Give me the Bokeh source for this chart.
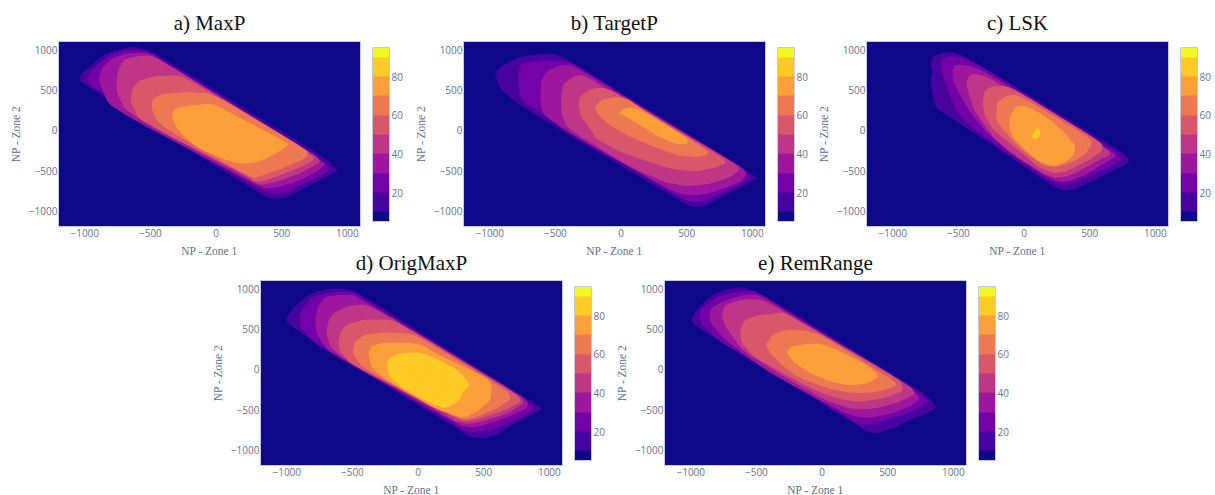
from bokeh.embed import file_html
from bokeh.resources import INLINE
from bokeh.plotting import figure
from bokeh.layouts import column, row
from bokeh.models import ColorBar, LinearColorMapper, FixedTicker

band_colors = ["#0d0887", "#46039f", "#7201a8", "#9c179e", "#bd3786", "#d8576b", "#ed7953", "#fb9f3a", "#fdca26", "#f0f921"]
x_ticks = [-1000, -500, 0, 500, 1000]
y_ticks = [-1000, -500, 0, 500, 1000]
tick_labels = {-1000: "\u22121000", -500: "\u2212500", 0: "0", 500: "500", 1000: "1000"}
bar_ticks = [20, 40, 60, 80]

# contour outlines: (NP zone 1, NP zone 2), level = lower bound of band
a_10 = [(-1046,640),(-1025,702),(-937,826),(-861,930),(-759,992),(-646,1033),(-582,1025),(-468,959),(861,-372),(886,-442),(932,-496),(886,-537),(785,-620),(633,-744),(532,-835),(443,-851),(354,-806),(278,-723),(-1013,579)]
a_20 = [(-982,620),(-962,723),(-861,868),(-772,959),(-658,1000),(-532,983),(-468,942),(823,-393),(861,-455),(848,-517),(772,-579),(633,-682),(532,-777),(430,-785),(329,-723),(266,-661),(-962,558)]
a_30 = [(-891,640),(-873,764),(-797,888),(-696,950),(-532,963),(-456,909),(797,-372),(830,-413),(785,-496),(633,-620),(481,-702),(380,-723),(304,-669),(241,-620),(-810,289),(-886,579)]
a_40 = [(-759,537),(-754,702),(-709,868),(-608,917),(-506,930),(-430,876),(759,-310),(797,-393),(633,-537),(456,-640),(329,-682),(228,-579),(-684,227),(-754,455)]
a_50 = [(-651,413),(-633,529),(-582,620),(-456,674),(-278,682),(-177,599),(734,-310),(747,-372),(582,-496),(380,-620),(304,-640),(228,-558),(-582,124),(-646,331)]
a_60 = [(-494,289),(-481,393),(-405,455),(-203,475),(-25,455),(696,-248),(696,-331),(532,-455),(354,-558),(291,-591),(215,-537),(-127,-227),(-380,21),(-456,124)]
a_70 = [(-337,165),(-316,269),(-203,310),(-25,331),(101,227),(532,-145),(557,-178),(430,-310),(304,-401),(177,-413),(51,-351),(-127,-227),(-241,-83),(-304,41)]

b_10 = [(-965,711),(-889,818),(-787,901),(-661,938),(-509,950),(-382,855),(934,-475),(985,-537),(1043,-591),(934,-682),(808,-785),(656,-930),(555,-950),(466,-888),(-648,186),(-838,393),(-927,529)]
b_20 = [(-787,640),(-775,806),(-724,847),(-585,868),(-420,859),(-344,806),(934,-517),(990,-578),(909,-669),(757,-785),(630,-876),(555,-893),(466,-847),(377,-764),(-585,186),(-762,372)]
b_30 = [(-615,413),(-610,620),(-560,744),(-458,806),(-382,806),(-306,744),(922,-455),(960,-545),(909,-640),(782,-723),(630,-793),(504,-806),(377,-744),(-408,-21),(-585,186),(-610,290)]
b_40 = [(-458,413),(-438,578),(-357,669),(-294,682),(-205,607),(871,-413),(904,-496),(833,-578),(681,-661),(504,-694),(327,-640),(48,-434),(-408,21),(-453,207)]
b_50 = [(-327,331),(-306,434),(-218,517),(-129,529),(-28,455),(770,-331),(803,-413),(681,-475),(555,-512),(377,-475),(175,-372),(-28,-248),(-192,-103),(-218,-21),(-306,165)]
b_60 = [(-198,289),(-154,372),(-53,413),(48,393),(137,289),(656,-248),(663,-302),(580,-331),(428,-310),(225,-186),(48,-62),(-104,83),(-180,207)]
b_70 = [(-20,215),(23,269),(86,281),(162,240),(504,-91),(506,-165),(428,-174),(289,-83),(149,62),(48,157)]

c_10 = [(-714,826),(-696,909),(-633,959),(-557,967),(-481,938),(-354,826),(734,-256),(772,-298),(803,-380),(760,-434),(633,-537),(481,-661),(380,-736),(291,-744),(228,-702),(-101,-331),(-430,21),(-608,207),(-679,298),(-696,455),(-714,620),(-696,723)]
c_20 = [(-638,826),(-628,888),(-570,921),(-481,909),(-329,797),(709,-269),(747,-339),(696,-413),(532,-537),(380,-653),(304,-674),(203,-632),(-101,-310),(-354,-21),(-506,207),(-570,455),(-620,682)]
c_30 = [(-547,723),(-532,806),(-443,814),(-304,736),(671,-269),(704,-318),(608,-413),(456,-558),(342,-632),(266,-632),(152,-558),(-101,-269),(-278,-41),(-405,207),(-494,455),(-544,620)]
c_40 = [(-441,558),(-425,669),(-380,698),(-291,669),(-101,496),(646,-248),(658,-298),(557,-380),(405,-517),(304,-578),(228,-587),(127,-517),(-76,-310),(-215,-124),(-291,41),(-380,248)]
c_50 = [(-316,351),(-299,496),(-241,545),(-127,545),(-25,463),(587,-145),(603,-236),(532,-331),(405,-442),(304,-517),(228,-529),(127,-475),(-25,-269),(-152,-103),(-241,21),(-299,186)]
c_60 = [(-215,186),(-203,351),(-139,426),(-63,442),(51,351),(494,-83),(519,-165),(468,-289),(380,-380),(253,-455),(152,-438),(38,-310),(-63,-165),(-165,21),(-203,103)]
c_70 = [(-114,62),(-101,207),(-63,289),(-13,310),(76,256),(190,145),(304,-21),(392,-186),(380,-310),(304,-401),(215,-446),(101,-372),(0,-227),(-89,-83)]
c_80 = [(58,-62),(101,37),(127,0),(114,-95),(71,-107)]

d_10 = [(-1020,610),(-937,784),(-810,950),(-658,1000),(-557,1000),(-456,950),(823,-365),(874,-390),(899,-440),(950,-490),(861,-564),(709,-689),(608,-813),(481,-855),(380,-834),(291,-722),(-861,411)]
d_20 = [(-906,618),(-886,743),(-798,909),(-646,958),(-506,958),(-430,896),(836,-398),(886,-469),(836,-552),(709,-647),(557,-751),(430,-780),(329,-743),(253,-647),(-760,286),(-886,494)]
d_30 = [(-785,618),(-765,763),(-709,900),(-608,921),(-494,921),(-405,838),(798,-336),(841,-419),(823,-490),(658,-606),(506,-689),(405,-722),(316,-689),(228,-606),(-684,224),(-772,431)]
d_40 = [(-696,431),(-689,577),(-646,701),(-532,784),(-405,805),(-291,722),(772,-336),(810,-419),(671,-552),(481,-647),(380,-676),(291,-647),(215,-573),(-582,149),(-671,286)]
d_50 = [(-608,307),(-595,452),(-544,556),(-405,618),(-203,618),(-63,494),(760,-315),(785,-398),(671,-502),(481,-606),(354,-647),(253,-573),(-506,58),(-587,203)]
d_60 = [(-499,203),(-481,349),(-405,431),(-228,461),(-51,440),(63,349),(684,-274),(709,-365),(608,-481),(456,-585),(354,-627),(266,-573),(0,-336),(-279,-108),(-430,37)]
d_70 = [(-380,203),(-354,286),(-279,328),(-101,336),(25,307),(152,183),(532,-108),(562,-212),(552,-378),(456,-514),(354,-597),(266,-564),(127,-481),(-51,-315),(-228,-149),(-354,17)]
d_80 = [(-238,58),(-223,141),(-127,203),(25,212),(152,120),(304,-4),(398,-191),(342,-282),(316,-390),(203,-485),(101,-419),(-76,-274),(-215,-108)]

e_10 = [(-998,618),(-942,763),(-828,929),(-701,1004),(-600,1020),(-486,950),(755,-274),(818,-365),(874,-461),(830,-523),(666,-626),(539,-730),(425,-792),(337,-772),(248,-668),(-853,423),(-980,564)]
e_20 = [(-937,639),(-924,743),(-803,900),(-676,958),(-524,971),(-436,909),(729,-274),(780,-349),(818,-398),(704,-510),(539,-606),(387,-680),(286,-689),(197,-597),(-765,328),(-909,535)]
e_30 = [(-861,639),(-841,763),(-752,846),(-600,921),(-499,929),(-398,846),(704,-274),(747,-365),(666,-461),(539,-544),(387,-597),(286,-597),(147,-523),(-398,-46),(-727,349),(-841,556)]
e_40 = [(-765,680),(-739,797),(-600,867),(-473,867),(-360,784),(679,-212),(709,-307),(565,-419),(387,-490),(235,-494),(33,-390),(-296,-87),(-600,224),(-739,535)]
e_50 = [(-625,452),(-600,597),(-499,668),(-372,689),(-296,709),(-170,589),(595,-129),(620,-266),(489,-349),(286,-407),(109,-357),(-94,-232),(-322,-25),(-524,162),(-613,328)]
e_60 = [(-428,307),(-372,440),(-271,490),(-119,481),(8,411),(539,-129),(572,-203),(413,-282),(235,-295),(33,-232),(-195,-87),(-322,79),(-403,216)]
e_70 = [(-271,203),(-233,286),(-119,315),(-18,319),(109,245),(311,79),(387,-4),(430,-95),(337,-178),(210,-199),(58,-149),(-94,-46),(-208,79)]

TICK = "#667391"
LABEL = "#5f6d8e"


def smooth(points, rounds=2):
    for _ in range(rounds):
        out = []
        n = len(points)
        for i in range(n):
            x0, y0 = points[i]
            x1, y1 = points[(i + 1) % n]
            out.append((0.85 * x0 + 0.15 * x1, 0.85 * y0 + 0.15 * y1))
            out.append((0.15 * x0 + 0.85 * x1, 0.15 * y0 + 0.85 * y1))
        points = out
    return points


def panel(title, outlines, left, right, top, bottom, margin, standoff):
    p = figure(frame_width=302, frame_height=185, x_range=(-1200, 1100), y_range=(-1190, 1100),
               min_border_left=left, min_border_right=right, min_border_top=top, min_border_bottom=bottom,
               output_backend="svg", toolbar_location=None, background_fill_color=band_colors[0],
               border_fill_color=None, outline_line_color="#c5c9e0", outline_line_width=1, margin=margin)
    p.title.text = title
    p.title.align = "center"
    p.title.text_font = "Liberation Serif"
    p.title.text_font_size = "21px"
    p.title.text_font_style = "normal"
    p.title.text_color = "#111111"
    p.title.standoff = standoff
    p.grid.visible = False
    for level, pts in outlines:
        sm = smooth(pts)
        p.patch([q[0] for q in sm], [q[1] for q in sm], fill_color=band_colors[level // 10], line_color=None)
    for ax, ticks, name in ((p.xaxis[0], x_ticks, "NP - Zone 1"), (p.yaxis[0], y_ticks, "NP - Zone 2")):
        ax.ticker = FixedTicker(ticks=ticks)
        ax.major_label_overrides = tick_labels
        ax.axis_label = name
        ax.axis_label_text_font = "Liberation Serif"
        ax.axis_label_text_font_size = "11.5px"
        ax.axis_label_text_font_style = "normal"
        ax.axis_label_text_color = LABEL
        ax.major_label_text_font = "Open Sans"
        ax.major_label_text_font_size = "10px"
        ax.major_label_text_color = TICK
        ax.axis_line_color = None
        ax.major_tick_line_color = None
        ax.minor_tick_line_color = None
        ax.major_tick_out = 0
        ax.major_tick_in = 0
    p.xaxis[0].major_label_standoff = 2
    p.xaxis[0].axis_label_standoff = 5
    p.yaxis[0].major_label_standoff = 1
    p.yaxis[0].axis_label_standoff = 4
    p.yaxis[0].major_label_orientation = "horizontal"

    palette = [band_colors[0]]
    for c in band_colors[1:9]:
        palette += [c, c]
    palette.append(band_colors[9])
    mapper = LinearColorMapper(palette=palette, low=5, high=95)
    cb = ColorBar(color_mapper=mapper, ticker=FixedTicker(ticks=bar_ticks), width=17, height=174,
                  location=(12, 5), margin=0, padding=0, major_tick_line_color=None, minor_tick_line_color=None,
                  major_label_text_font="Open Sans", major_label_text_font_size="10px",
                  major_label_text_color=TICK, label_standoff=2, bar_line_color="#c5c9e0",
                  border_line_color=None, background_fill_color=None)
    p.add_layout(cb, "right")
    return p


pa = panel("a) MaxP", [(10, a_10), (20, a_20), (30, a_30), (40, a_40), (50, a_50), (60, a_60), (70, a_70)], 51, 49, 41, 32, (0, 0, 0, 6), 14)
pb = panel("b) TargetP", [(10, b_10), (20, b_20), (30, b_30), (40, b_40), (50, b_50), (60, b_60), (70, b_70)], 54, 48, 41, 32, (0, 0, 0, 0), 14)
pc = panel("c) LSK", [(10, c_10), (20, c_20), (30, c_30), (40, c_40), (50, c_50), (60, c_60), (70, c_70), (80, c_80)], 53, 44, 41, 32, (0, 0, 0, 0), 14)
pd_ = panel("d) OrigMaxP", [(10, d_10), (20, d_20), (30, d_30), (40, d_40), (50, d_50), (60, d_60), (70, d_70), (80, d_80)], 56, 47, 36, 28, (-16, 0, 0, 204), 11)
pe = panel("e) RemRange", [(10, e_10), (20, e_20), (30, e_30), (40, e_40), (50, e_50), (60, e_60), (70, e_70)], 55, 50, 36, 28, (-16, 0, 0, 0), 11)

page = column(row(pa, pb, pc), row(pd_, pe))
open("out.html", "w").write(file_html(page, INLINE))
